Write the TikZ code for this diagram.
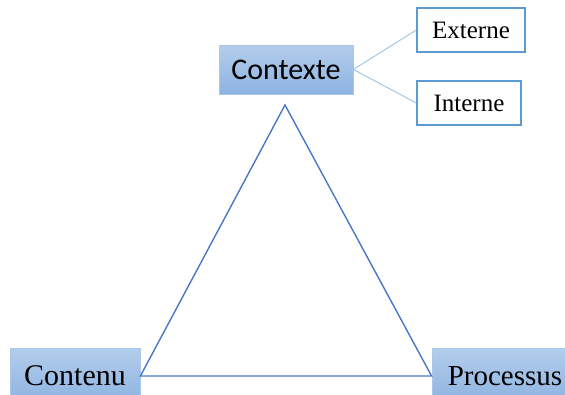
\documentclass[tikz,border=0pt]{standalone}
\usepackage{fontspec}
\setmainfont{Liberation Serif}
\newfontfamily\calibfont{Carlito}
\definecolor{boxtop}{HTML}{B3CDEB}
\definecolor{boxbot}{HTML}{8DB3E1}
\definecolor{boxedge}{HTML}{A9C7E8}
\definecolor{triline}{HTML}{4A76C6}
\definecolor{leafedge}{HTML}{5B9BD5}
\definecolor{linkline}{HTML}{9DC3E6}
\begin{document}
\begin{tikzpicture}[x=1pt,y=-1pt,
  shadedbox/.style={rectangle, draw=boxedge, line width=0.8pt,
    top color=boxtop, bottom color=boxbot, inner sep=0pt},
  leafbox/.style={rectangle, draw=leafedge, line width=1.4pt, fill=white,
    inner sep=0pt, font=\fontsize{25}{29}\selectfont},
  triedge/.style={draw=triline, line width=1.4pt},
  linkedge/.style={draw=linkline, line width=0.9pt}]
\useasboundingbox (0,0) rectangle (565,394);
\clip (0,0) rectangle (565,394);

% main boxes
\node[shadedbox, minimum width=134pt, minimum height=49pt,
  font=\calibfont\fontsize{30}{34}\selectfont] (ctx) at (286,69.5) {Contexte};
\node[shadedbox, minimum width=130pt, minimum height=56pt,
  font=\fontsize{30}{34}\selectfont] (cnt) at (75,376) {Contenu};
\node[shadedbox, minimum width=146pt, minimum height=56pt,
  font=\fontsize{29}{33}\selectfont] (prc) at (505,376) {Processus};

% context details
\node[leafbox, minimum width=108pt, minimum height=44pt] (ext) at (471,30) {Externe};
\node[leafbox, minimum width=104pt, minimum height=44pt] (int) at (469,103) {Interne};
\draw[linkedge] (ctx.east) -- (ext.west);
\draw[linkedge] (ctx.east) -- (int.west);

% triangle
\coordinate (apex) at (285,105);
\draw[triedge, line join=miter] (apex) -- (cnt.east) -- (prc.west) -- cycle;
\end{tikzpicture}
\end{document}
